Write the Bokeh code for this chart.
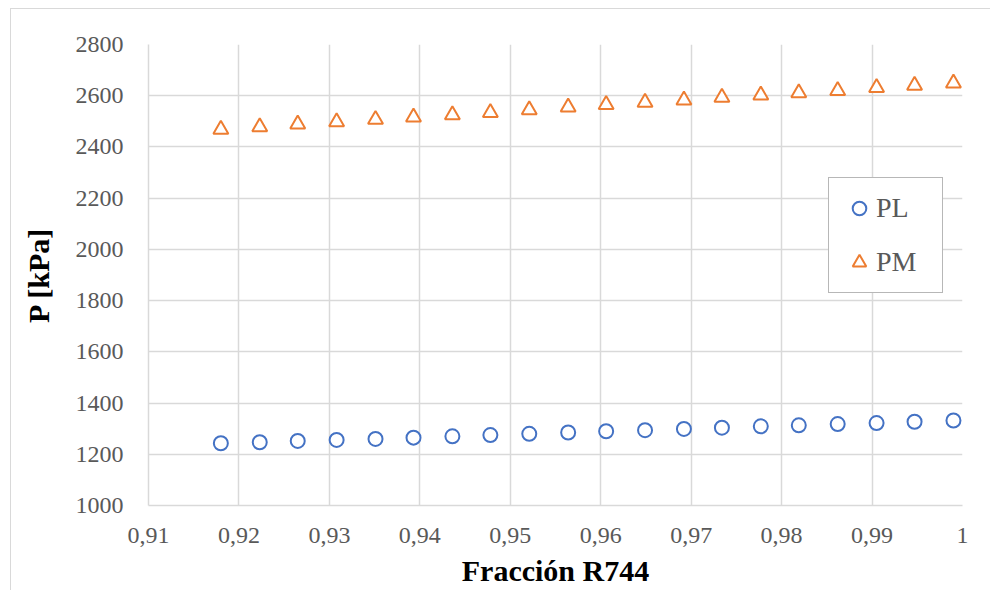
from bokeh.plotting import figure
from bokeh.models import (ColumnDataSource, Legend, LegendItem, FixedTicker,
                          CustomJSTickFormatter, Range1d)
from bokeh.embed import file_html
from bokeh.resources import INLINE

# ---- data ----
fraccion = [0.9180, 0.9223, 0.9265, 0.9308, 0.9351, 0.9393, 0.9436, 0.9478, 0.9521, 0.9564,
            0.9606, 0.9649, 0.9692, 0.9734, 0.9777, 0.9819, 0.9862, 0.9905, 0.9947, 0.9990]
pl = [1243, 1247, 1252, 1256, 1260, 1265, 1270, 1275, 1280, 1285,
      1290, 1294, 1299, 1304, 1309, 1313, 1318, 1322, 1327, 1332]
pm = [2468, 2478, 2489, 2498, 2507, 2516, 2525, 2534, 2545, 2555,
      2565, 2574, 2583, 2593, 2602, 2611, 2620, 2631, 2640, 2649]
x_ticks = [0.91, 0.92, 0.93, 0.94, 0.95, 0.96, 0.97, 0.98, 0.99, 1.0]
y_ticks = [1000, 1200, 1400, 1600, 1800, 2000, 2200, 2400, 2600, 2800]
series_names = ["PL", "PM"]
x_title = "Fracción R744"
y_title = "P [kPa]"

FONT = "'Liberation Serif', serif"
GRID = "#d9d9d9"

src = ColumnDataSource(dict(x=fraccion, pl=pl, pm=pm))

p = figure(width=980, height=582, output_backend="svg", toolbar_location=None,
           x_range=Range1d(0.91, 1.0), y_range=Range1d(1000, 2800),
           min_border_left=137, min_border_right=29, min_border_top=35, min_border_bottom=86,
           background_fill_color="white", border_fill_color="white")
p.styles = {"margin-left": "10px", "margin-top": "8px",
            "border-left": "1px solid #d9d9d9", "border-top": "1px solid #d9d9d9"}
p.outline_line_color = None

r_pl = p.scatter("x", "pl", source=src, marker="circle", size=14,
                 fill_color="white", line_color="#4472C4", line_width=2)
r_pm = p.scatter("x", "pm", source=src, marker="triangle", size=15,
                 fill_color="white", line_color="#ED7D31", line_width=2)

fmt = CustomJSTickFormatter(code="return (Math.round(tick*100)/100).toString().replace('.', ',');")

for ax in (p.xaxis[0], p.yaxis[0]):
    ax.axis_line_color = GRID
    ax.axis_line_width = 1.5
    ax.major_tick_line_color = None
    ax.minor_tick_line_color = None
    ax.major_tick_in = 0
    ax.major_tick_out = 0
    ax.major_label_text_font = FONT
    ax.major_label_text_font_size = "24px"
    ax.major_label_text_color = "#595959"
    ax.axis_label_text_font = FONT
    ax.axis_label_text_font_size = "30px"
    ax.axis_label_text_font_style = "bold"
    ax.axis_label_text_color = "black"

p.xaxis[0].ticker = FixedTicker(ticks=x_ticks)
p.xaxis[0].formatter = fmt
p.xaxis[0].axis_label = x_title
p.xaxis[0].major_label_standoff = 22
p.xaxis[0].axis_label_standoff = 8

p.yaxis[0].ticker = FixedTicker(ticks=y_ticks)
p.yaxis[0].axis_label = y_title
p.yaxis[0].major_label_standoff = 25
p.yaxis[0].axis_label_standoff = 18

p.xgrid.ticker = FixedTicker(ticks=x_ticks)
p.ygrid.ticker = FixedTicker(ticks=y_ticks)
for g in (p.xgrid[0], p.ygrid[0]):
    g.grid_line_color = GRID
    g.grid_line_width = 1.5

legend = Legend(items=[LegendItem(label=series_names[0], renderers=[r_pl]),
                       LegendItem(label=series_names[1], renderers=[r_pm])],
                location=(680, 212), orientation="vertical",
                label_text_font=FONT, label_text_font_size="28px", label_text_color="#595959",
                glyph_width=34, glyph_height=34, label_height=34, label_width=53,
                label_standoff=0, spacing=20, padding=13, margin=0,
                border_line_color="#6f6f6f", border_line_width=1.5,
                background_fill_color="white", background_fill_alpha=1.0)
p.add_layout(legend, "center")

open("out.html", "w").write(file_html(p, INLINE))
